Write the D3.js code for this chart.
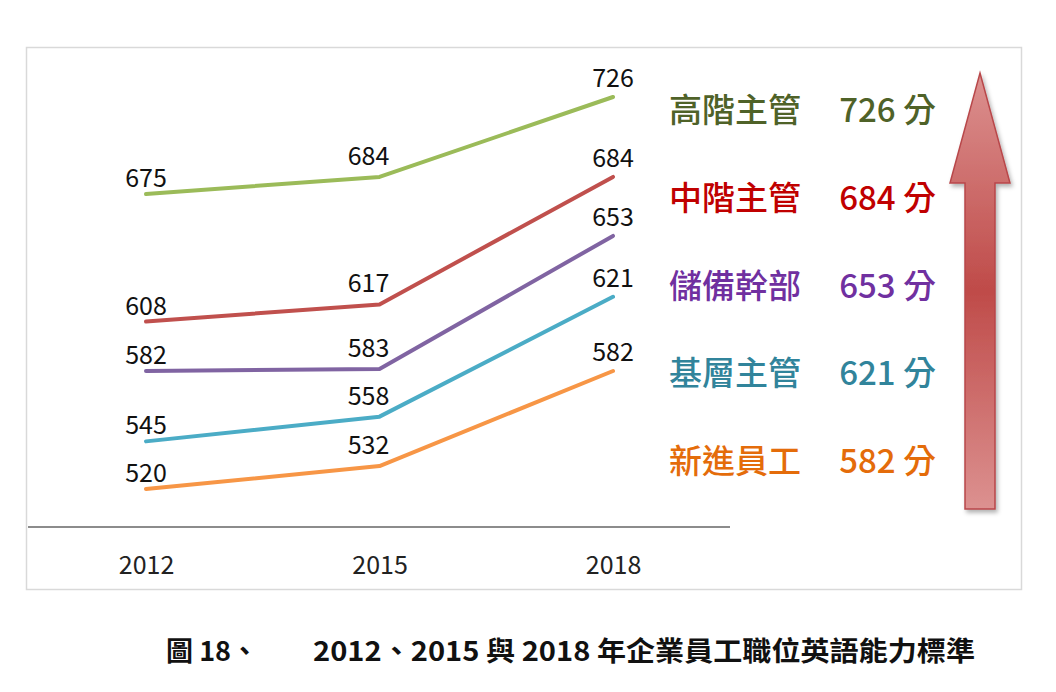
<!DOCTYPE html>
<html><head><meta charset="utf-8">
<script src="https://cdn.jsdelivr.net/npm/d3@7"></script>
<style>
html,body{margin:0;padding:0;background:#fff;}
svg{display:block;}
</style></head>
<body>
<svg id="chart" width="1056" height="692"></svg>
<script>
const years = ["2012", "2015", "2018"];
const categories = ["高階主管", "中階主管", "儲備幹部", "基層主管", "新進員工"];
const seniorMgr = [675, 684, 726];
const midMgr = [608, 617, 684];
const reserve = [582, 583, 653];
const juniorMgr = [545, 558, 621];
const newStaff = [520, 532, 582];
const seriesValues = [seniorMgr, midMgr, reserve, juniorMgr, newStaff];
const lineColors = ["#9bbb59", "#c0504d", "#8064a2", "#4bacc6", "#f79646"];
const textColors = ["#4f6228", "#c00000", "#7030a0", "#31849b", "#e46c0a"];
const caption1 = "圖 18、";
const caption2 = "2012、2015 與 2018 年企業員工職位英語能力標準";

const svg = d3.select("#chart");
const font = "'Noto Sans CJK TC', 'Noto Sans', sans-serif";

// frame
svg.append("rect").attr("x", 26.5).attr("y", 47.5).attr("width", 995).attr("height", 542)
  .attr("fill", "#fff").attr("stroke", "#d9d9d9").attr("stroke-width", 1.5);

const x = d3.scalePoint().domain(years).range([146, 613]);
const y = d3.scaleLinear().domain([500, 726]).range([527, 97]);

// axis
const xAxis = d3.axisBottom(x).tickSize(0).tickPadding(29);
const gx = svg.append("g").attr("transform", "translate(0,527)").call(xAxis);
gx.select(".domain").remove();
gx.selectAll("text").attr("font-family", font).attr("font-size", 25).attr("fill", "#222");
svg.append("line").attr("x1", 28).attr("x2", 730).attr("y1", 527).attr("y2", 527)
  .attr("stroke", "#8c8c8c").attr("stroke-width", 2);

const line = d3.line().x((d, i) => x(years[i])).y(d => y(d));
const labelDx = [0, -11, 0];
const labelDy = [-7, -12, -10];

seriesValues.forEach((vals, s) => {
  svg.append("path").datum(vals).attr("d", line)
    .attr("fill", "none").attr("stroke", lineColors[s]).attr("stroke-width", 4)
    .attr("stroke-linejoin", "round").attr("stroke-linecap", "round");
  svg.selectAll(null).data(vals).join("text")
    .attr("x", (d, i) => x(years[i]) + labelDx[i])
    .attr("y", (d, i) => y(d) + labelDy[i])
    .attr("text-anchor", "middle")
    .attr("font-family", font).attr("font-size", 25).attr("fill", "#111")
    .text(d => d);
});

// right-side legend labels
const legendY = d3.scalePoint().domain(categories).range([122, 473]);
categories.forEach((c, s) => {
  svg.append("text").attr("x", 669).attr("y", legendY(c))
    .attr("font-family", font).attr("font-size", 33).attr("font-weight", 500)
    .attr("fill", textColors[s]).text(c);
  svg.append("text").attr("x", 936).attr("y", legendY(c)).attr("text-anchor", "end")
    .attr("font-family", font).attr("font-size", 33).attr("font-weight", 500)
    .attr("fill", textColors[s]).text(seriesValues[s][2] + " 分");
});

// arrow
const defs = svg.append("defs");
const grad = defs.append("linearGradient").attr("id", "ag").attr("x1", 0).attr("y1", 0).attr("x2", 0).attr("y2", 1);
grad.append("stop").attr("offset", "0%").attr("stop-color", "#dc9190");
grad.append("stop").attr("offset", "50%").attr("stop-color", "#bf4b49");
grad.append("stop").attr("offset", "100%").attr("stop-color", "#dc9190");
const filt = defs.append("filter").attr("id", "sh").attr("x", "-50%").attr("y", "-10%").attr("width", "200%").attr("height", "120%");
filt.append("feDropShadow").attr("dx", 2).attr("dy", 3).attr("stdDeviation", 2).attr("flood-color", "#000").attr("flood-opacity", 0.3);
const arrowX = 980, arrowTop = 73, headBase = 183, arrowBottom = 509, headHalf = 30, shaftHalf = 15;
svg.append("path")
  .attr("d", `M${arrowX},${arrowTop} L${arrowX + headHalf},${headBase} L${arrowX + shaftHalf},${headBase} L${arrowX + shaftHalf},${arrowBottom} L${arrowX - shaftHalf},${arrowBottom} L${arrowX - shaftHalf},${headBase} L${arrowX - headHalf},${headBase} Z`)
  .attr("fill", "url(#ag)").attr("stroke", "#b8474a").attr("stroke-width", 1.5)
  .attr("stroke-linejoin", "miter").attr("filter", "url(#sh)");

// caption
svg.append("text").attr("x", 166).attr("y", 661).attr("font-family", font)
  .attr("font-size", 27).attr("font-weight", 700).attr("fill", "#111").text(caption1);
svg.append("text").attr("x", 313).attr("y", 661).attr("font-family", font)
  .attr("font-size", 27).attr("font-weight", 700).attr("fill", "#111")
  .attr("textLength", 662).attr("lengthAdjust", "spacingAndGlyphs").text(caption2);
</script>
</body></html>
